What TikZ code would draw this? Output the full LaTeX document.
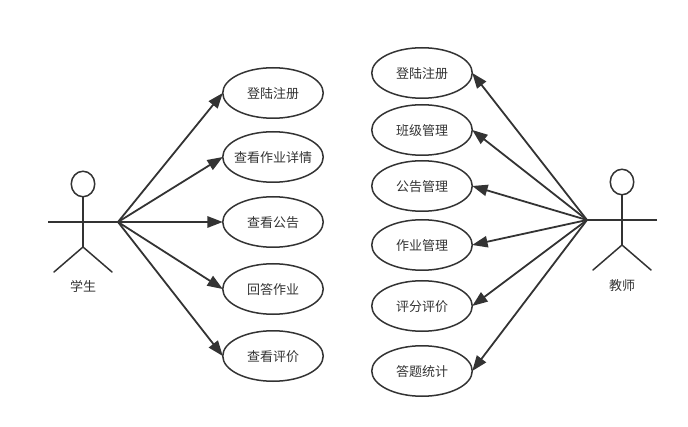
\documentclass[tikz,border=0pt]{standalone}
\usepackage{fontspec}
\setmainfont{Noto Sans CJK SC}
\usetikzlibrary{shapes.geometric,arrows.meta}
\definecolor{ink}{HTML}{333333}
\tikzset{
  usecase/.style={ellipse,draw=ink,line width=1.5pt*0.75,minimum width=100.5*0.75pt,minimum height=50.5*0.75pt,inner xsep=-15pt,inner ysep=0pt,outer sep=0pt,text=ink,font=\fontsize{9.75pt}{12pt}\selectfont,text depth=0pt,text height=8pt},
  headshape/.style={ellipse,draw=ink,line width=1.5pt*0.75,minimum width=23.5*0.75pt,minimum height=25.5*0.75pt,inner sep=0pt,outer sep=0pt},
  limb/.style={draw=ink,line width=2*0.75pt,line join=round},
  thin limb/.style={draw=ink,line width=1.5*0.75pt,line cap=round},
  assoc/.style={draw=ink,line width=1.35pt,-{Triangle[length=11.5pt,width=8.5pt,fill=ink]}},
  actorlabel/.style={text=ink,inner sep=0pt,font=\fontsize{9.75pt}{12pt}\selectfont}
}
\begin{document}
\begin{tikzpicture}[x=0.75pt,y=-0.75pt]
\useasboundingbox (0,0) rectangle (688,427);
% left actor
\node[headshape] (lh) at (83,184) {};
\coordinate (lb) at (83,247);
\coordinate (la) at (48,222);
\coordinate (ls) at (118,222);
\coordinate (ll1) at (54,272);
\coordinate (ll2) at (112,272);
\draw[limb] (lh.south) -- (lb);
\draw[limb] (la) -- (ls);
\draw[thin limb] (ll1) -- (lb) -- (ll2);
\node[actorlabel] (lt) at (83,286) {学生};
% right actor
\node[headshape] (rh) at (622,182) {};
\coordinate (rb) at (622,245);
\coordinate (ra) at (657,220);
\coordinate (rs) at (587,220);
\coordinate (rl1) at (593,270);
\coordinate (rl2) at (651,270);
\draw[limb] (rh.south) -- (rb);
\draw[limb] (ra) -- (rs);
\draw[thin limb] (rl1) -- (rb) -- (rl2);
\node[actorlabel] (rt) at (622,285.5) {教师};
% left use cases
\node[usecase] (a1) at (273,93) {登陆注册};
\node[usecase] (a2) at (273,157) {查看作业详情};
\node[usecase] (a3) at (273,222) {查看公告};
\node[usecase] (a4) at (273,289) {回答作业};
\node[usecase] (a5) at (273,356) {查看评价};
% right use cases
\node[usecase] (b1) at (422,73) {登陆注册};
\node[usecase] (b2) at (422,130) {班级管理};
\node[usecase] (b3) at (422,186) {公告管理};
\node[usecase] (b4) at (422,245) {作业管理};
\node[usecase] (b5) at (422,306) {评分评价};
\node[usecase] (b6) at (422,371) {答题统计};
\foreach \t in {a1,a2,a3,a4,a5} \draw[assoc] (ls) -- (\t.west);
\foreach \t in {b1,b2,b3,b4,b5,b6} \draw[assoc] (rs) -- (\t.east);
\end{tikzpicture}
\end{document}
